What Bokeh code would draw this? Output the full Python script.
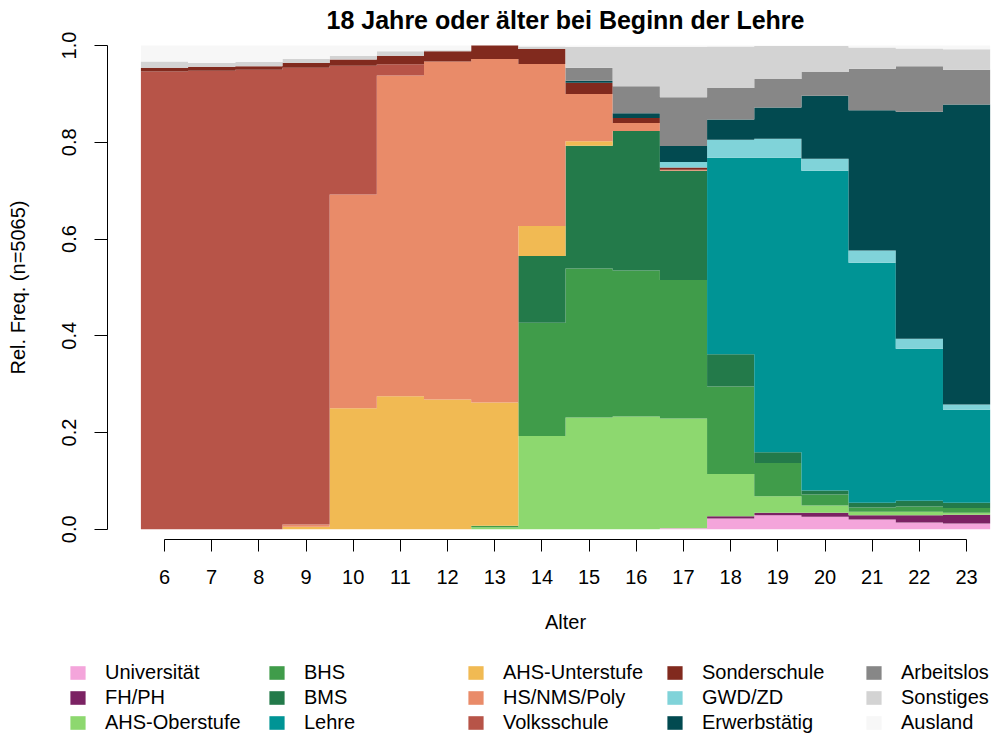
import numpy as np
from bokeh.plotting import figure
from bokeh.models import ColumnDataSource, Range1d, FixedTicker, Legend, LegendItem, Label
from bokeh.embed import file_html
from bokeh.resources import INLINE

# ---------------- data (relative frequencies per age) ----------------
ages = [6, 7, 8, 9, 10, 11, 12, 13, 14, 15, 16, 17, 18, 19, 20, 21, 22, 23]
x_tick_labels = [str(a) for a in ages]
y_ticks = [0.0, 0.2, 0.4, 0.6, 0.8, 1.0]
y_tick_labels = ["0.0", "0.2", "0.4", "0.6", "0.8", "1.0"]
title_text = "18 Jahre oder älter bei Beginn der Lehre"

categories = ["Universität", "FH/PH", "AHS-Oberstufe", "BHS", "BMS", "Lehre",
              "AHS-Unterstufe", "HS/NMS/Poly", "Volksschule", "Sonderschule",
              "GWD/ZD", "Erwerbstätig", "Arbeitslos", "Sonstiges", "Ausland"]
colors = ["#F4A5DB", "#7B2263", "#8DD86F", "#409C4A", "#237A4A", "#009495",
          "#F1BA53", "#E98B69", "#B75448", "#812A1E",
          "#80D3D9", "#024A50", "#878787", "#D3D3D3", "#F7F7F7"]

universitaet   = [0, 0, 0, 0, 0, 0, 0, 0, 0, 0, 0, .002, .022, .029, .026, .020, .014, .012]
fh_ph          = [0, 0, 0, 0, 0, 0, 0, 0, 0, 0, 0, 0, .005, .005, .008, .009, .015, .018]
ahs_oberstufe  = [0, 0, 0, 0, 0, 0, 0, .004, .193, .231, .233, .227, .087, .034, .015, .007, .007, .004]
bhs            = [0, 0, 0, 0, 0, 0, 0, .003, .234, .308, .302, .286, .181, .069, .023, .009, .011, .010]
bms            = [0, 0, 0, 0, 0, 0, 0, 0, .138, .254, .288, .226, .067, .022, .008, .010, .012, .011]
lehre          = [0, 0, 0, 0, 0, 0, 0, 0, 0, 0, 0, 0, .406, .609, .661, .496, .314, .192]
ahs_unterstufe = [0, 0, 0, .005, .250, .275, .268, .255, .062, .009, 0, 0, 0, 0, 0, 0, 0, 0]
hs_nms_poly    = [0, 0, 0, .005, .442, .663, .699, .710, .335, .098, .017, .002, 0, 0, 0, 0, 0, 0]
volksschule    = [.946, .948, .950, .944, .266, .023, 0, 0, 0, 0, 0, 0, 0, 0, 0, 0, 0, 0]
sonderschule   = [.008, .008, .007, .010, .013, .018, .021, .028, .031, .023, .010, .005, 0, 0, 0, 0, 0, 0]
gwd_zd         = [0, 0, 0, 0, 0, 0, 0, 0, 0, 0, 0, .011, .037, .039, .025, .025, .021, .011]
erwerbstaetig  = [0, 0, 0, 0, 0, 0, 0, 0, 0, .004, .010, .033, .042, .065, .130, .290, .469, .620]
arbeitslos     = [0, 0, 0, 0, 0, 0, 0, 0, 0, .027, .056, .101, .065, .059, .049, .086, .094, .072]
sonstiges      = [.013, .008, .009, .008, .008, .009, .002, 0, .005, .043, .081, .104, .086, .068, .054, .044, .037, .042]
ausland        = [.033, .036, .034, .028, .021, .012, .010, 0, .002, .003, .003, .003, .002, .001, .001, .004, .006, .008]

series = [universitaet, fh_ph, ahs_oberstufe, bhs, bms, lehre, ahs_unterstufe,
          hs_nms_poly, volksschule, sonderschule, gwd_zd, erwerbstaetig,
          arbeitslos, sonstiges, ausland]

# ---------------- build stacked step table (one polygon per category) ----------------
ages_arr = np.array(ages, dtype=float)
edges = np.append(ages_arr - 0.5, ages_arr[-1] + 0.5)
data = {"x": np.repeat(edges, 2)[1:-1]}          # left/right edge of every age bin
cum = np.zeros(len(ages))
for i, s in enumerate(series):
    lo = cum.copy()
    cum = cum + np.array(s, dtype=float)
    data[f"lo{i}"] = np.repeat(lo, 2)
    data[f"hi{i}"] = np.repeat(cum, 2)
src = ColumnDataSource(data)

# ---------------- geometry (canvas pixels) ----------------
W, H = 994, 736
PX_PER_UNIT_Y = 483.75
Y0 = 528.75            # pixel row of value 0
AXIS_Y = 539           # pixel row of the x axis line
AXIS_X = 107           # pixel column of the y axis line
TITLE_BASELINE = 19    # pixel row used to anchor the title
PX_PER_AGE = 47.18
AGE6 = 164             # pixel column of age 6

x_start = ages[0] + (0 - AGE6) / PX_PER_AGE
x_end = ages[0] + (W - AGE6) / PX_PER_AGE
y_start = (Y0 - H) / PX_PER_UNIT_Y
y_end = Y0 / PX_PER_UNIT_Y

FONT = "Liberation Sans"

p = figure(width=W, height=H, output_backend="svg", toolbar_location=None,
           x_range=Range1d(x_start, x_end), y_range=Range1d(y_start, y_end),
           min_border_left=0, min_border_right=0,
           min_border_top=0, min_border_bottom=0)
p.title.visible = False
p.outline_line_color = None
p.xgrid.visible = False
p.ygrid.visible = False
p.background_fill_color = "white"
p.border_fill_color = "white"

renderers = []
for i, (name, col) in enumerate(zip(categories, colors)):
    r = p.varea(x="x", y1=f"lo{i}", y2=f"hi{i}", source=src,
                fill_color=col, fill_alpha=1.0)
    renderers.append(r)

# title, centred over the age axis
p.add_layout(Label(x=(ages[0] + ages[-1]) / 2, y=(Y0 - TITLE_BASELINE) / PX_PER_UNIT_Y,
                   text=title_text, text_align="center", text_baseline="alphabetic",
                   text_font=FONT, text_font_size="25px", text_font_style="bold",
                   text_color="black"))

# x axis (drawn at a fixed location inside the frame)
xa = p.xaxis[0]
xa.fixed_location = (Y0 - AXIS_Y) / PX_PER_UNIT_Y
xa.ticker = FixedTicker(ticks=ages)
xa.major_label_overrides = {a: l for a, l in zip(ages, x_tick_labels)}
xa.bounds = (ages[0], ages[-1])
xa.major_tick_out = 12
xa.major_tick_in = 0
xa.minor_tick_out = 0
xa.minor_tick_in = 0
xa.axis_line_color = "black"
xa.major_tick_line_color = "black"
xa.major_label_text_font = FONT
xa.major_label_text_font_size = "20px"
xa.major_label_text_color = "black"
xa.major_label_standoff = 18
xa.axis_label = "Alter"
xa.axis_label_text_font = FONT
xa.axis_label_text_font_size = "20px"
xa.axis_label_text_font_style = "normal"
xa.axis_label_text_color = "black"
xa.axis_label_standoff = 24

# y axis
ya = p.yaxis[0]
ya.fixed_location = ages[0] + (AXIS_X - AGE6) / PX_PER_AGE
ya.ticker = FixedTicker(ticks=y_ticks)
ya.major_label_overrides = {t: l for t, l in zip(y_ticks, y_tick_labels)}
ya.bounds = (0, 1)
ya.major_tick_out = 13
ya.major_tick_in = 0
ya.minor_tick_out = 0
ya.minor_tick_in = 0
ya.axis_line_color = "black"
ya.major_tick_line_color = "black"
ya.major_label_text_font = FONT
ya.major_label_text_font_size = "20px"
ya.major_label_text_color = "black"
ya.major_label_orientation = "vertical"
ya.major_label_standoff = 19
ya.axis_label = "Rel. Freq. (n=5065)"
ya.axis_label_text_font = FONT
ya.axis_label_text_font_size = "20px"
ya.axis_label_text_font_style = "normal"
ya.axis_label_text_color = "black"
ya.axis_label_standoff = 30

# legend (5 columns x 3 rows, column-major)
items = [LegendItem(label=name, renderers=[r]) for name, r in zip(categories, renderers)]
legend = Legend(items=items, orientation="vertical", nrows=3,
                location=(68, 2),
                glyph_width=19, glyph_height=17, label_standoff=18,
                label_width=160, spacing=2, padding=0, margin=0,
                border_line_color=None, background_fill_alpha=0,
                label_text_font=FONT, label_text_font_size="20px",
                label_text_color="black")
p.add_layout(legend, "center")

open("out.html", "w").write(file_html(p, INLINE))
